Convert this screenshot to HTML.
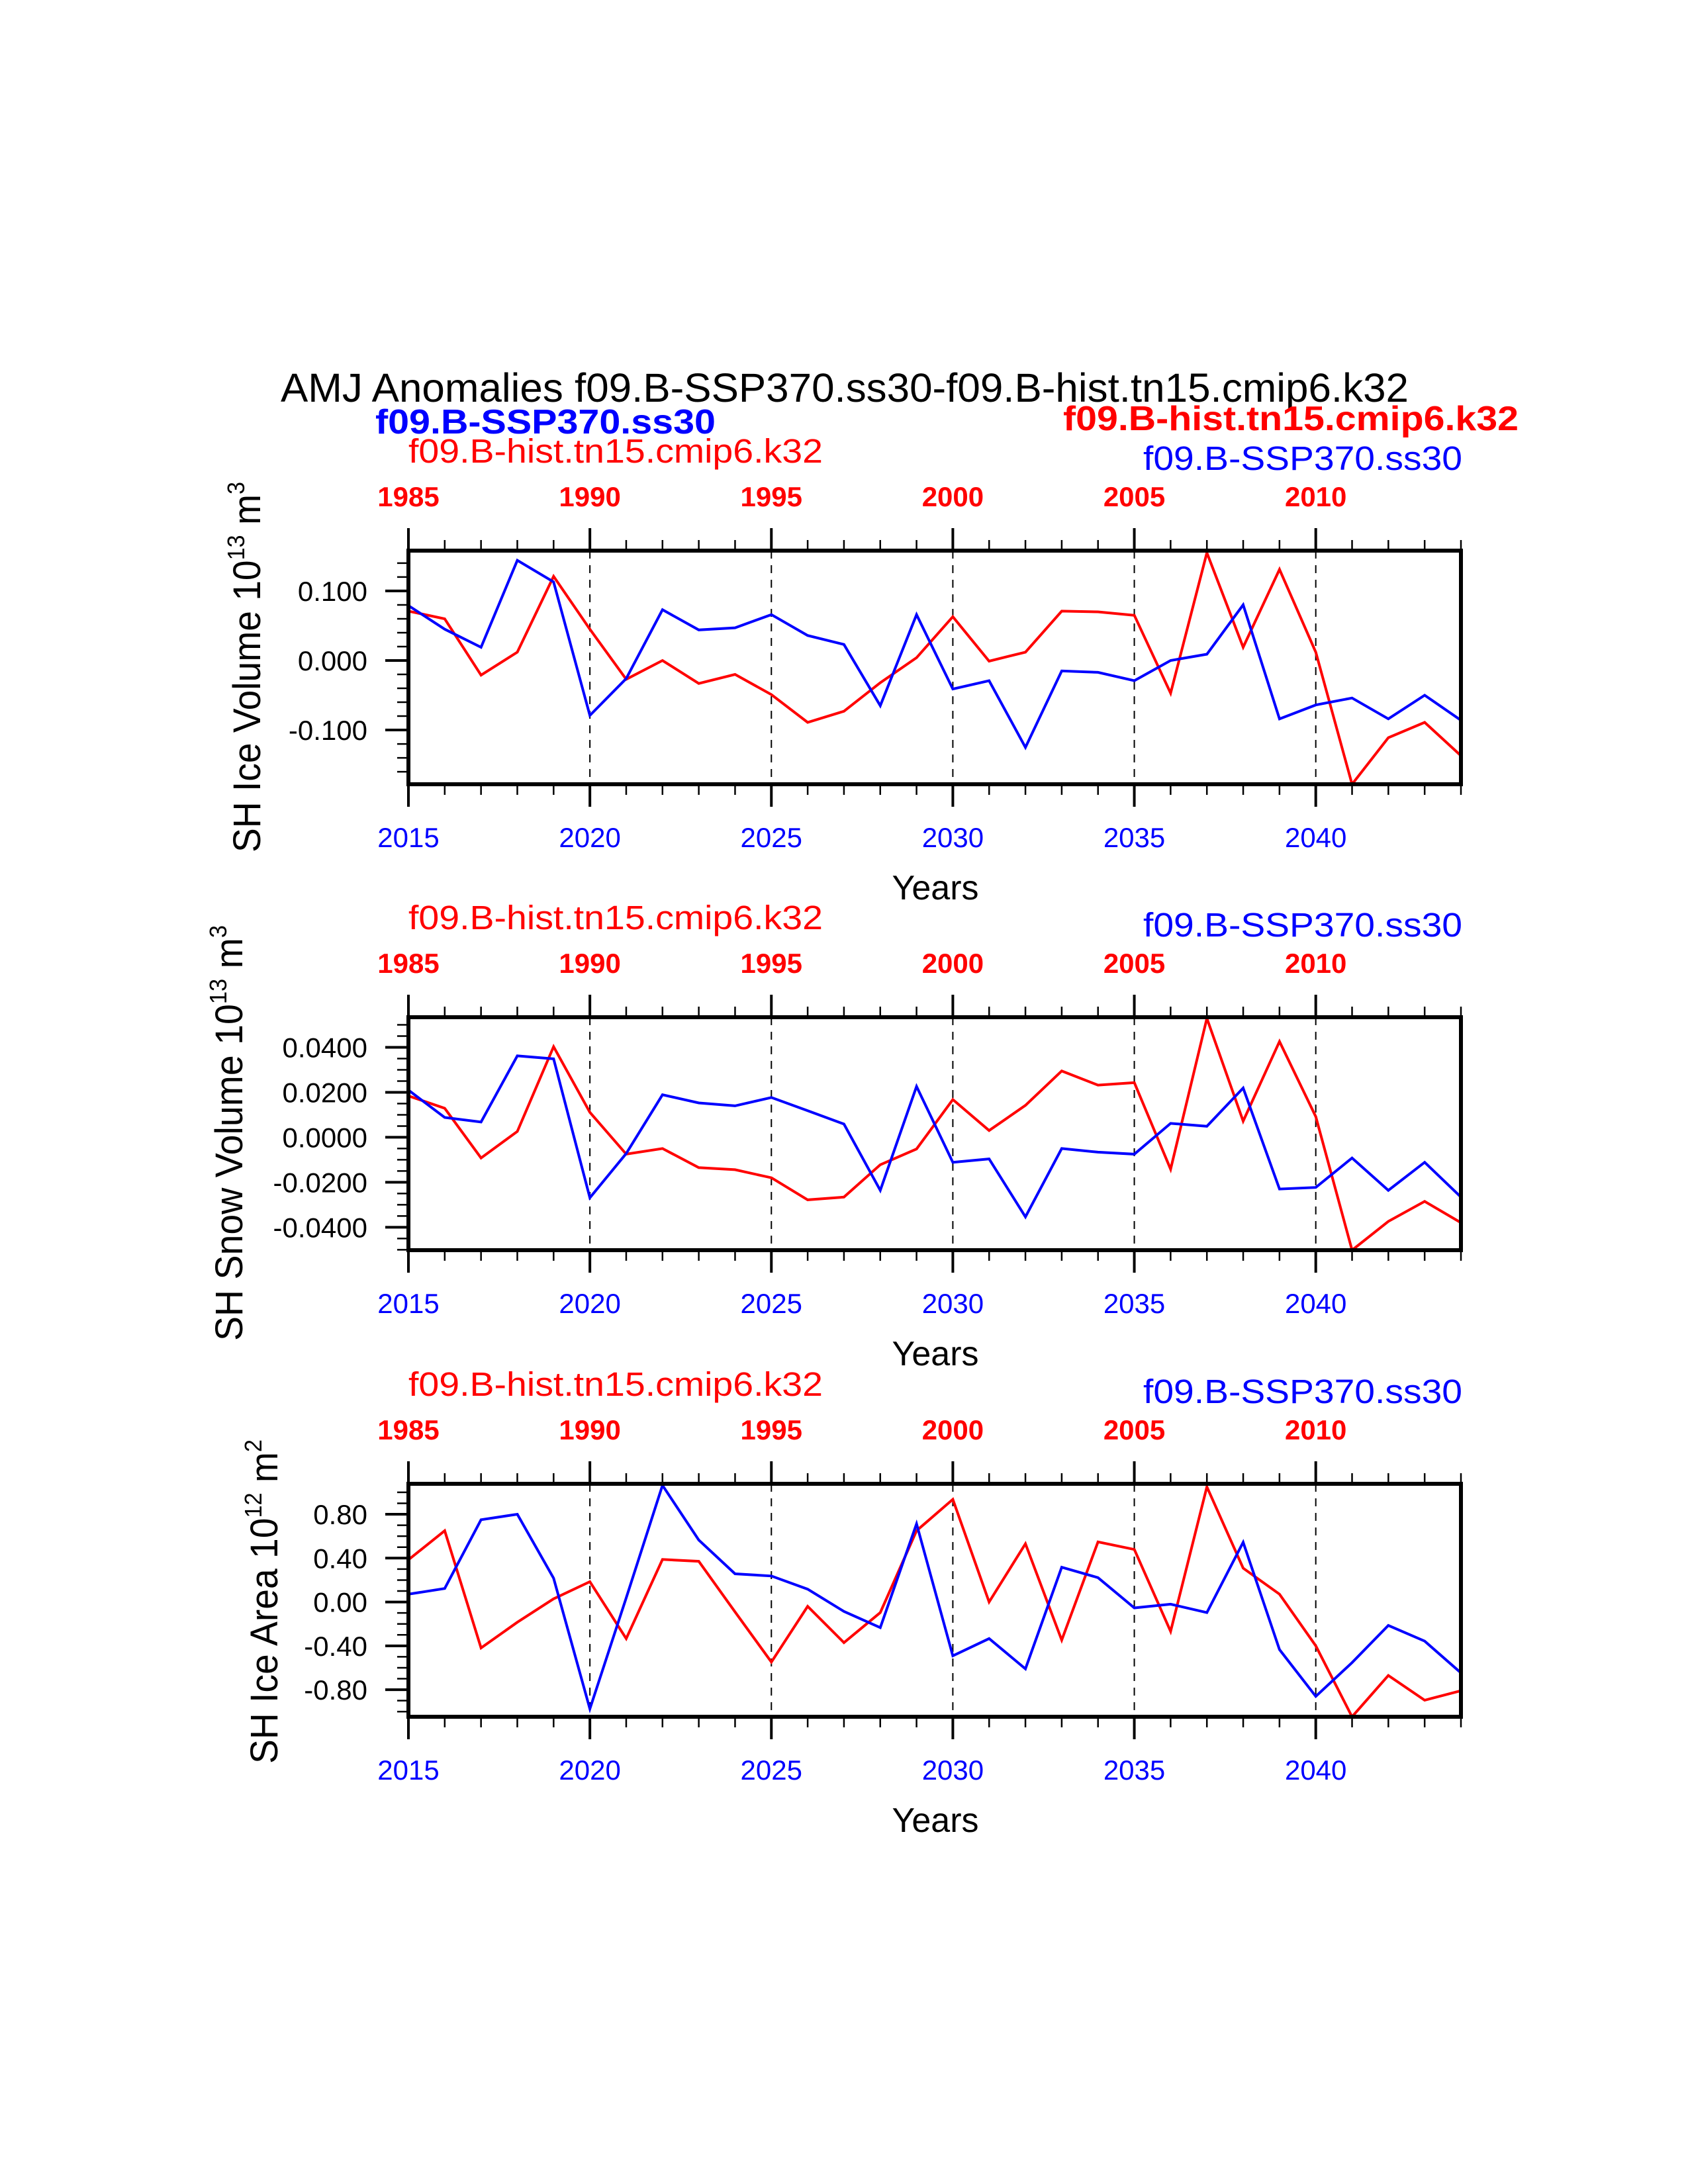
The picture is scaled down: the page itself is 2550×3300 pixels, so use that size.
<!DOCTYPE html>
<html><head><meta charset="utf-8"><style>
html,body{margin:0;padding:0;background:#fff}
svg{display:block}
text{font-family:"Liberation Sans",Arial,sans-serif}
</style></head><body>
<svg id="chart" width="2550" height="3300" viewBox="0 0 2550 3300" xmlns="http://www.w3.org/2000/svg">
<rect width="2550" height="3300" fill="#fff"/>
<text x="424" y="607" font-size="61" textLength="1704" lengthAdjust="spacingAndGlyphs">AMJ Anomalies f09.B-SSP370.ss30-f09.B-hist.tn15.cmip6.k32</text>
<text x="567" y="655" font-size="52" font-weight="bold" fill="#0000ff" textLength="514" lengthAdjust="spacingAndGlyphs">f09.B-SSP370.ss30</text>
<text x="1606" y="650" font-size="52" font-weight="bold" fill="#ff0000" textLength="688" lengthAdjust="spacingAndGlyphs">f09.B-hist.tn15.cmip6.k32</text>
<g id="panels"></g>
</svg>
<script>
// ---- data ----
const years = [2015,2016,2017,2018,2019,2020,2021,2022,2023,2024,2025,2026,2027,2028,2029,2030,2031,2032,2033,2034,2035,2036,2037,2038,2039,2040,2041,2042,2043,2044];
const yearOffset = 30; // hist years = ssp years - 30
const iceVolBlue = [0.079,0.045,0.019,0.144,0.113,-0.079,-0.026,0.073,0.044,0.047,0.066,0.036,0.023,-0.065,0.066,-0.041,-0.029,-0.125,-0.015,-0.017,-0.029,0.0,0.009,0.080,-0.084,-0.064,-0.054,-0.084,-0.050,-0.086];
const iceVolRed = [0.071,0.060,-0.021,0.012,0.121,0.045,-0.027,0.0,-0.033,-0.020,-0.049,-0.089,-0.073,-0.032,0.004,0.063,-0.001,0.012,0.071,0.070,0.065,-0.047,0.155,0.019,0.131,0.012,-0.178,-0.111,-0.089,-0.137];
const snowVolBlue = [0.0210,0.0088,0.0068,0.0362,0.0349,-0.0269,-0.0072,0.0189,0.0153,0.0140,0.0177,0.0118,0.0059,-0.0236,0.0226,-0.0111,-0.0096,-0.0354,-0.0050,-0.0066,-0.0075,0.0062,0.0049,0.0219,-0.0230,-0.0223,-0.0092,-0.0236,-0.0111,-0.0266];
const snowVolRed = [0.0184,0.0129,-0.0092,0.0026,0.0403,0.0111,-0.0075,-0.0050,-0.0135,-0.0144,-0.0180,-0.0278,-0.0266,-0.0122,-0.0052,0.0168,0.0030,0.0142,0.0295,0.0232,0.0243,-0.0142,0.0529,0.0072,0.0426,0.0092,-0.0502,-0.0374,-0.0285,-0.0380];
const iceAreaBlue = [0.071,0.123,0.750,0.800,0.217,-0.975,0.037,1.064,0.565,0.257,0.237,0.117,-0.086,-0.234,0.713,-0.491,-0.334,-0.610,0.317,0.222,-0.054,-0.020,-0.097,0.545,-0.434,-0.861,-0.553,-0.214,-0.357,-0.647];
const iceAreaRed = [0.385,0.650,-0.419,-0.185,0.029,0.185,-0.334,0.388,0.371,-0.091,-0.548,-0.040,-0.371,-0.097,0.650,0.936,0.0,0.531,-0.348,0.548,0.479,-0.268,1.050,0.308,0.071,-0.400,-1.047,-0.670,-0.896,-0.810];
const volTicks = [0.1,0.0,-0.1];
const volTickLabels = ["0.100","0.000","-0.100"];
const snowTicks = [0.04,0.02,0.0,-0.02,-0.04];
const snowTickLabels = ["0.0400","0.0200","0.0000","-0.0200","-0.0400"];
const areaTicks = [0.8,0.4,0.0,-0.4,-0.8];
const areaTickLabels = ["0.80","0.40","0.00","-0.40","-0.80"];
const labelYears = [2015,2020,2025,2030,2035,2040];

const NS = "http://www.w3.org/2000/svg";
const root = document.getElementById('panels');
const X0 = 617, X1 = 2207;
function xs(yr){ return X0 + (yr - years[0]) / (years[years.length-1] - years[0]) * (X1 - X0); }
function mk(tag, attrs, parent){ const e = document.createElementNS(NS, tag); for (const k in attrs) e.setAttribute(k, attrs[k]); (parent||root).appendChild(e); return e; }

function panel(cfg){
  const g = mk('g', {});
  
  
  const top = cfg.top, bot = cfg.bot;
  const ys = v => top + (cfg.vmax - v) / (cfg.vmax - cfg.vmin) * (bot - top);
  labelYears.slice(1).forEach(yr => {
    const l = mk('line', {x1:xs(yr), x2:xs(yr), y1:top, y2:bot, stroke:'#000', 'stroke-width':2, 'stroke-dasharray':'12,10'}, g);
    
    
  });
  years.forEach(yr => {
    const major = (yr % 5 === 0);
    const len = major ? 34 : 16, w = major ? 4 : 2.5;
    const t1 = mk('line', {x1:xs(yr), x2:xs(yr), y1:top, y2:top-len, stroke:'#000', 'stroke-width':w}, g);
    
    
    const t2 = mk('line', {x1:xs(yr), x2:xs(yr), y1:bot, y2:bot+len, stroke:'#000', 'stroke-width':w}, g);
    
    
  });
  const n0 = Math.ceil(cfg.vmin / cfg.minor - 1e-6), n1 = Math.floor(cfg.vmax / cfg.minor + 1e-6);
  for (let i = n0; i <= n1; i++) {
    const v = i * cfg.minor;
    const isMajor = cfg.ticks.some(t => Math.abs(t - v) < cfg.minor / 10);
    const len = isMajor ? 35 : 17;
    const t = mk('line', {x1:X0, x2:X0-len, y1:ys(v), y2:ys(v), stroke:'#000', 'stroke-width': isMajor ? 4 : 2.5}, g);
    
    
  }
  cfg.ticks.forEach((v, i) => {
    const t = mk('text', {x:555, y:ys(v)+15, 'font-size':42, 'text-anchor':'end'}, g);
    t.textContent = cfg.tickLabels[i];
    
    
  });
  labelYears.forEach(yr => {
    const b = mk('text', {x:xs(yr), y:bot+95, 'font-size':42, 'text-anchor':'middle', fill:'#0000ff'}, g);
    b.textContent = yr;
    
    
    const r = mk('text', {x:xs(yr), y:top-67, 'font-size':42, 'font-weight':'bold', 'text-anchor':'middle', fill:'#ff0000'}, g);
    r.textContent = yr - yearOffset;
    
    
  });
  const clipId = 'clip-' + cfg.name;
  const cp = mk('clipPath', {id: clipId}, g);
  mk('rect', {x:X0, y:top-3, width:X1-X0, height:bot-top+6}, cp);
  [[cfg.red, '#ff0000', 'red-series'], [cfg.blue, '#0000ff', 'blue-series']].forEach(([arr, col, nm]) => {
    const pts = arr.map((v, i) => xs(years[i]).toFixed(1) + ',' + ys(v).toFixed(1)).join(' ');
    const p = mk('polyline', {points: pts, fill:'none', stroke: col, 'stroke-width': 4, 'stroke-linejoin':'miter', 'clip-path':'url(#' + clipId + ')'}, g);
    
    
  });
  const fr = mk('rect', {x:X0, y:top, width:X1-X0, height:bot-top, fill:'none', stroke:'#000', 'stroke-width':6}, g);
  
  
  const rl = mk('text', {x:617, y:top-133, 'font-size':51, fill:'#ff0000', textLength:626, lengthAdjust:'spacingAndGlyphs'}, g);
  rl.textContent = 'f09.B-hist.tn15.cmip6.k32';
  
  
  const bl = mk('text', {x:1727, y:top-122, 'font-size':51, fill:'#0000ff', textLength:482, lengthAdjust:'spacingAndGlyphs'}, g);
  bl.textContent = 'f09.B-SSP370.ss30';
  
  
  const xt = mk('text', {x:1413, y:bot+174, 'font-size':52, 'text-anchor':'middle'}, g);
  xt.textContent = 'Years';
  
  
  const yt = mk('text', {x:0, y:0, 'font-size':58, 'text-anchor':'middle', transform:'translate(' + cfg.ytx + ',' + cfg.yty + ') rotate(-90)', textLength: cfg.ytlen, lengthAdjust:'spacingAndGlyphs'}, g);
  
  
  yt.innerHTML = cfg.ytitle + ' 10<tspan dy="-24" font-size="36">' + cfg.exp + '</tspan><tspan dy="24"> m</tspan><tspan dy="-24" font-size="36">' + cfg.uexp + '</tspan>';
}

panel({name:'ice-volume-panel', top:832, bot:1185, vmax:0.158, vmin:-0.178, minor:0.02, ticks:volTicks, tickLabels:volTickLabels, blue:iceVolBlue, red:iceVolRed, ytitle:'SH Ice Volume', exp:'13', uexp:'3', ytx:393, yty:1008, ytlen:560});
panel({name:'snow-volume-panel', top:1537, bot:1889, vmax:0.0534, vmin:-0.0502, minor:0.005, ticks:snowTicks, tickLabels:snowTickLabels, blue:snowVolBlue, red:snowVolRed, ytitle:'SH Snow Volume', exp:'13', uexp:'3', ytx:366, yty:1712, ytlen:628});
panel({name:'ice-area-panel', top:2242, bot:2594, vmax:1.078, vmin:-1.047, minor:0.1, ticks:areaTicks, tickLabels:areaTickLabels, blue:iceAreaBlue, red:iceAreaRed, ytitle:'SH Ice Area', exp:'12', uexp:'2', ytx:419, yty:2420, ytlen:490});
</script>
</body></html>
